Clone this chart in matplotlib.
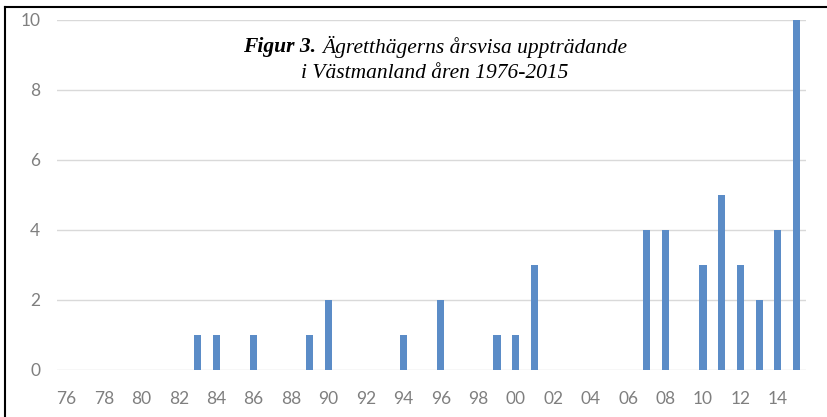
import numpy as np
import matplotlib
matplotlib.use("Agg")
import matplotlib.pyplot as plt
from matplotlib.lines import Line2D

# yearly counts 1976-2015
years = list(range(1976, 2016))
counts = [0, 0, 0, 0, 0, 0, 0, 1, 1, 0,
          1, 0, 0, 1, 2, 0, 0, 0, 1, 0,
          2, 0, 0, 1, 1, 3, 0, 0, 0, 0,
          0, 4, 4, 0, 3, 5, 3, 2, 4, 10]
tick_labels = ["%02d" % (y % 100) for y in years[::2]]

W, H = 827, 417
fig = plt.figure(figsize=(W / 100, H / 100), dpi=100)

x0, x1, y0, y1 = 57, 806, 370, 20
ax = fig.add_axes([x0 / W, 1 - y0 / H, (x1 - x0) / W, (y0 - y1) / H])

x = np.arange(len(years))
ax.bar(x, counts, width=0.38, color="#5b8cc7", zorder=3)

ax.set_xlim(-0.5, len(years) - 0.5)
ax.set_ylim(0, 10)
ax.set_yticks(range(0, 11, 2))
ax.set_xticks(x[::2])
ax.set_xticklabels(tick_labels)
ax.grid(axis="y", color="#d9d9d9", lw=1, zorder=0)
for s in ["top", "right", "left", "bottom"]:
    ax.spines[s].set_visible(False)
ax.tick_params(length=0, colors="#7f7f7f", labelsize=12.5)
ax.tick_params(axis="x", pad=15)
ax.tick_params(axis="y", pad=12)
for lab in ax.get_xticklabels() + ax.get_yticklabels():
    lab.set_fontfamily("Lato")

# title inside the plot, bold "Figur 3." then italic text
serif = dict(fontfamily="Liberation Serif", fontsize=15.5, fontstyle="italic", va="center")
part2 = "Ägretthägerns årsvisa uppträdande"
renderer = fig.canvas.get_renderer()
tb = fig.text(0, 0, "Figur 3. ", fontweight="bold", **serif)
tr = fig.text(0, 0, part2, **serif)
wb = tb.get_window_extent(renderer).width
wr = tr.get_window_extent(renderer).width
cx = 435
left = cx - (wb + wr) / 2
tb.set_position((left / W, 1 - 47 / H))
tr.set_position(((left + wb) / W, 1 - 47 / H))
fig.text(cx / W, 1 - 73 / H, "i Västmanland åren 1976-2015", ha="center", **serif)

# frame of the scanned page
fig.add_artist(Line2D([5 / W, 5 / W], [0, 1 - 7 / H], color="black", lw=1.5))
fig.add_artist(Line2D([5 / W, 1], [1 - 7 / H, 1 - 7 / H], color="black", lw=1.5))

fig.savefig("out.png", dpi=100)
